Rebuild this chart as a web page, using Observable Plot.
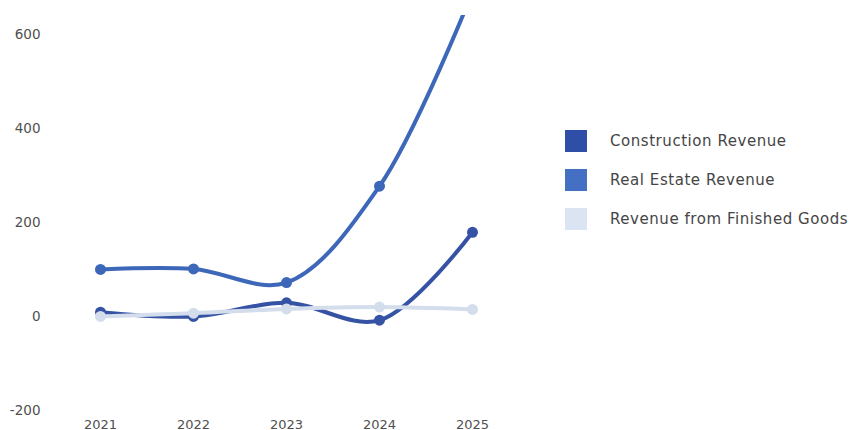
<!DOCTYPE html>
<html>
<head>
<meta charset="utf-8">
<script src="https://cdn.jsdelivr.net/npm/d3@7"></script>
<script src="https://cdn.jsdelivr.net/npm/@observablehq/plot@0.6"></script>
<style>
  html, body { margin: 0; padding: 0; background: #fff; }
  #wrap { position: relative; width: 852px; height: 430px; font-family: "DejaVu Sans", sans-serif; }
  #legend { position: absolute; left: 565px; top: 130px; }
  .item { display: flex; align-items: center; height: 22px; margin-bottom: 17px; }
  .sw { width: 22px; height: 22px; margin-right: 23px; }
  .lb { font-size: 15px; letter-spacing: 0.55px; color: #454545; white-space: nowrap; }
</style>
</head>
<body>
<div id="wrap"><div id="chart"></div><div id="legend"></div></div>
<script>
const years = ["2021", "2022", "2023", "2024", "2025"];
const seriesNames = ["Construction Revenue", "Real Estate Revenue", "Revenue from Finished Goods"];
const construction = [9, 0, 29, -8, 179];
const realEstate = [100, 101, 72, 277, 690];
const finishedGoods = [0, 7, 16, 20, 15];
const lineColors = ["#3552a5", "#3d67b8", "#d3ddec"];
const swatchColors = ["#2f4ea8", "#4470c4", "#dbe4f2"];
const yTicks = [-200, 0, 200, 400, 600];

const values = [construction, realEstate, finishedGoods];
const rows = [];
seriesNames.forEach((s, i) => years.forEach((y, j) => rows.push({series: s, year: y, value: values[i][j]})));

const marks = [
  Plot.axisY(yTicks, {tickSize: 0, tickPadding: 12, fontSize: 13.5, tickFormat: d => String(d), label: null, fill: "#505050"}),
  Plot.axisX(years, {tickSize: 0, tickPadding: 9, fontSize: 13, label: null, fill: "#505050"})
];
seriesNames.forEach((s, i) => {
  const d = rows.filter(r => r.series === s);
  marks.push(Plot.line(d, {x: "year", y: "value", stroke: lineColors[i], strokeWidth: 4, curve: "catmull-rom", clip: true}));
  marks.push(Plot.dot(d.filter(r => r.value <= 640), {x: "year", y: "value", fill: lineColors[i], r: 5.5}));
});

const chart = Plot.plot({
  width: 520,
  height: 430,
  marginLeft: 52,
  marginRight: 0,
  marginTop: 15,
  marginBottom: 20,
  style: {fontFamily: "DejaVu Sans, sans-serif", color: "#505050", background: "#fff", overflow: "visible"},
  x: {type: "point", domain: years, padding: 0.5, label: null},
  y: {domain: [-200, 640], label: null},
  marks
});
document.getElementById("chart").appendChild(chart);

const legend = document.getElementById("legend");
seriesNames.forEach((s, i) => {
  const it = document.createElement("div");
  it.className = "item";
  it.innerHTML = `<div class="sw" style="background:${swatchColors[i]}"></div><div class="lb">${s}</div>`;
  legend.appendChild(it);
});
</script>
</body>
</html>
